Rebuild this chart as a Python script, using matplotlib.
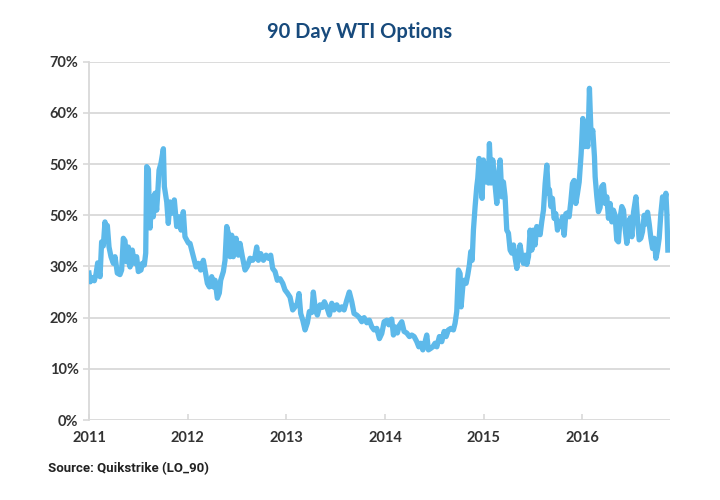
import numpy as np
import matplotlib
matplotlib.use("Agg")
import matplotlib.pyplot as plt

# 90 day implied vol (years since 2011, percent)
t2011 = [0.000, 0.013, 0.034, 0.054, 0.071, 0.088, 0.112, 0.128, 0.145, 0.162,
         0.172, 0.186, 0.203, 0.223, 0.247, 0.264, 0.287, 0.314, 0.331, 0.348,
         0.365, 0.382, 0.399, 0.416, 0.439, 0.460, 0.483, 0.500, 0.527, 0.541,
         0.561, 0.575, 0.585, 0.602, 0.612, 0.619, 0.636, 0.652, 0.669, 0.686,
         0.697, 0.710, 0.730, 0.754, 0.764, 0.788, 0.804, 0.821, 0.845, 0.865,
         0.889, 0.916, 0.933, 0.956, 0.973]
v2011 = [28.7, 27.0, 27.8, 27.2, 28.5, 30.7, 28.0, 34.8, 34.0, 38.7,
         37.0, 38.0, 33.8, 31.9, 30.6, 31.9, 28.7, 28.4, 29.3, 35.5,
         35.0, 30.9, 33.8, 29.9, 33.2, 30.6, 31.9, 29.0, 29.3, 30.6,
         30.3, 32.6, 49.5, 49.0, 40.4, 37.5, 43.6, 39.7, 44.3, 41.0,
         44.3, 48.8, 50.2, 53.0, 45.6, 42.6, 38.4, 42.6, 40.4, 43.0,
         37.8, 39.7, 37.1, 40.7, 35.8]

t2012 = [1.007, 1.024, 1.058, 1.085, 1.108, 1.132, 1.159, 1.176, 1.200, 1.220,
         1.244, 1.261, 1.278, 1.301, 1.321, 1.335, 1.362, 1.379, 1.396, 1.413,
         1.430, 1.447, 1.463, 1.491, 1.514, 1.531, 1.555, 1.582, 1.605, 1.633,
         1.660, 1.683, 1.700, 1.717, 1.741, 1.768, 1.795, 1.818, 1.842, 1.862,
         1.886, 1.909, 1.937, 1.964, 1.987]
v2012 = [34.6, 34.5, 31.9, 29.9, 30.6, 29.3, 31.2, 29.3, 26.7, 26.0,
         28.0, 26.0, 27.3, 23.8, 24.8, 27.3, 29.0, 31.2, 37.8, 36.5,
         31.9, 36.1, 31.9, 35.5, 32.2, 34.5, 31.9, 29.3, 30.0, 31.6,
         31.2, 31.9, 33.8, 31.2, 32.5, 31.2, 32.2, 31.6, 32.2, 29.6,
         29.0, 27.3, 27.6, 26.7, 25.4]

t2013 = [2.011, 2.038, 2.065, 2.089, 2.112, 2.129, 2.146, 2.167, 2.190, 2.214,
         2.234, 2.258, 2.274, 2.295, 2.315, 2.342, 2.366, 2.386, 2.410, 2.437,
         2.461, 2.484, 2.512, 2.538, 2.562, 2.586, 2.613, 2.639, 2.664, 2.687,
         2.714, 2.741, 2.765, 2.789, 2.816, 2.842, 2.867, 2.890, 2.917, 2.944,
         2.968, 2.992]
v2013 = [24.8, 24.0, 21.5, 22.1, 22.8, 24.7, 20.8, 19.5, 17.6, 19.0,
         21.2, 21.0, 25.0, 21.5, 20.5, 22.5, 22.0, 23.1, 22.1, 20.5,
         22.8, 21.5, 22.5, 21.5, 22.1, 21.5, 23.4, 25.0, 23.1, 20.8,
         20.5, 20.0, 19.2, 20.0, 19.0, 19.5, 18.2, 17.6, 17.9, 15.9,
         16.9, 19.2]

t2014 = [3.019, 3.039, 3.052, 3.069, 3.086, 3.103, 3.126, 3.147, 3.171, 3.194,
         3.221, 3.248, 3.272, 3.296, 3.323, 3.343, 3.363, 3.384, 3.407, 3.424,
         3.441, 3.465, 3.485, 3.508, 3.526, 3.552, 3.576, 3.600, 3.620, 3.643,
         3.668, 3.694, 3.711, 3.728, 3.745, 3.762, 3.772, 3.789, 3.803, 3.823,
         3.840, 3.856, 3.870, 3.884, 3.897, 3.914, 3.931, 3.941, 3.955, 3.972,
         3.985, 3.998]
v2014 = [19.5, 18.6, 19.5, 19.7, 16.6, 18.2, 17.0, 18.5, 19.2, 17.3,
         17.0, 16.3, 16.6, 16.3, 15.3, 14.3, 15.0, 13.7, 15.3, 16.6,
         13.7, 14.0, 14.3, 15.0, 14.3, 16.3, 15.3, 17.3, 16.3, 17.6,
         17.9, 17.6, 18.9, 21.2, 29.3, 28.6, 22.1, 26.0, 27.3, 26.7,
         28.4, 30.3, 32.9, 31.2, 37.1, 41.7, 45.6, 47.2, 51.1, 48.8,
         43.3, 50.8]

t2015 = [4.015, 4.033, 4.049, 4.059, 4.076, 4.093, 4.110, 4.134, 4.151, 4.168,
         4.185, 4.201, 4.218, 4.235, 4.252, 4.269, 4.286, 4.303, 4.320, 4.337,
         4.353, 4.370, 4.387, 4.404, 4.421, 4.438, 4.455, 4.472, 4.489, 4.505,
         4.522, 4.539, 4.556, 4.573, 4.590, 4.607, 4.624, 4.641, 4.657, 4.668,
         4.682, 4.698, 4.715, 4.732, 4.749, 4.766, 4.783, 4.800, 4.817, 4.834,
         4.854, 4.867, 4.884, 4.901, 4.918, 4.935, 4.952, 4.969, 4.989]
v2015 = [46.5, 50.1, 46.3, 54.0, 46.3, 50.8, 47.2, 42.3, 47.5, 50.8,
         43.6, 46.5, 43.6, 37.1, 36.5, 33.2, 32.6, 34.2, 31.6, 29.6,
         32.2, 34.2, 31.9, 30.6, 32.2, 30.4, 31.9, 37.1, 33.2, 37.1,
         34.2, 37.8, 37.5, 36.2, 38.8, 41.0, 46.2, 49.8, 44.3, 45.0,
         41.7, 43.3, 39.4, 40.3, 37.1, 38.8, 37.8, 39.7, 36.1, 40.3,
         40.5, 39.7, 42.6, 46.2, 46.8, 42.3, 44.3, 46.5, 52.0]

t2016 = [5.006, 5.022, 5.040, 5.057, 5.073, 5.090, 5.107, 5.124, 5.131, 5.148,
         5.164, 5.181, 5.198, 5.215, 5.232, 5.249, 5.266, 5.283, 5.300, 5.316,
         5.333, 5.350, 5.367, 5.384, 5.401, 5.418, 5.435, 5.452, 5.469, 5.486,
         5.503, 5.520, 5.544, 5.561, 5.577, 5.594, 5.611, 5.628, 5.645, 5.662,
         5.679, 5.696, 5.713, 5.730, 5.747, 5.763, 5.780, 5.797, 5.814, 5.831,
         5.848, 5.858, 5.868]
v2016 = [58.9, 53.4, 55.3, 53.4, 64.8, 55.3, 56.6, 51.4, 47.5, 43.6,
         40.7, 41.5, 45.6, 46.0, 42.3, 43.6, 39.4, 42.3, 38.7, 41.0,
         40.0, 35.2, 34.8, 39.5, 41.7, 41.0, 37.4, 34.5, 37.4, 39.5,
         35.8, 40.6, 43.6, 39.0, 35.2, 35.5, 36.8, 40.0, 38.3, 40.6,
         38.3, 35.5, 33.5, 35.5, 31.6, 33.2, 35.5, 40.3, 43.6, 41.7,
         44.3, 40.3, 33.2]

years = [2011, 2012, 2013, 2014, 2015, 2016]
y_ticks = [0, 10, 20, 30, 40, 50, 60, 70]
y_labels = ["0%", "10%", "20%", "30%", "50%", "50%", "60%", "70%"]

t = 2011 + np.array(t2011 + t2012 + t2013 + t2014 + t2015 + t2016)
vol = np.array(v2011 + v2012 + v2013 + v2014 + v2015 + v2016)

plt.rcParams['font.family'] = ['Lato', 'DejaVu Sans']

fig = plt.figure(figsize=(7.2, 5.0), dpi=100)
ax = fig.add_axes([0.1236, 0.16, 0.807, 0.7166])

grid_col = "#d9d9d9"
for v in y_ticks:
    ax.axhline(v, color=grid_col, lw=1.3, zorder=1)

ax.plot(t, vol, color="#5db9ea", lw=3.8, solid_joinstyle="round", zorder=3)

ax.set_xlim(2011, 2016.89)
ax.set_ylim(0, 70)
ax.set_xticks(years)
ax.set_xticklabels([str(y) for y in years])
ax.set_yticks(y_ticks)
ax.set_yticklabels(y_labels)

for s in ["top", "right", "bottom"]:
    ax.spines[s].set_visible(False)
ax.spines["left"].set_color(grid_col)
ax.spines["left"].set_linewidth(1.3)

ax.tick_params(axis="both", colors=grid_col, length=4, width=1.2,
               labelcolor="#333333", labelsize=10.5)
ax.tick_params(axis="x", direction="in", pad=8)
for lab in ax.get_xticklabels() + ax.get_yticklabels():
    lab.set_fontweight("bold")

fig.text(0.5, 0.936, "90 Day WTI Options", ha="center", va="center",
         fontsize=14.5, fontweight="bold", color="#174a7c")
# source note sits well below the year labels
fig.text(0.066, 0.062, "Source: Quikstrike (LO_90)", ha="left", va="center",
         fontsize=9.5, fontweight="bold", color="#222222",
         family=["Roboto", "DejaVu Sans"])

fig.savefig("out.png", dpi=100)
